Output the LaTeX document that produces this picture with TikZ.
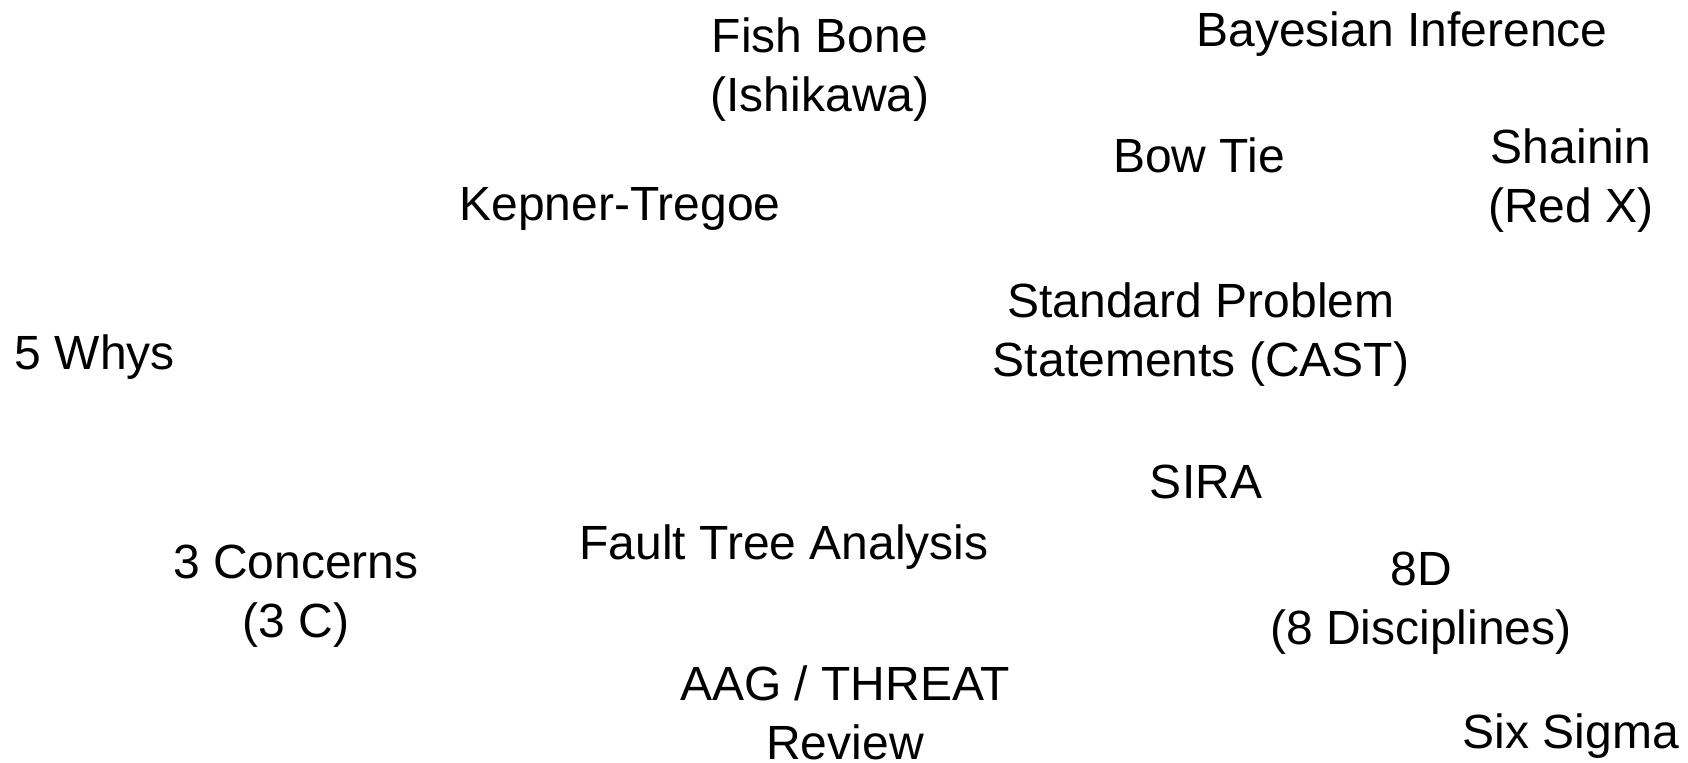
\documentclass[tikz,border=0pt]{standalone}
\usepackage{fontspec}
\setmainfont{Liberation Sans}
\usetikzlibrary{positioning}

\tikzset{method/.style={align=center, inner sep=0pt, font=\fontsize{24}{29.5}\selectfont}}

\begin{document}
\begin{tikzpicture} [x=0.5pt, y=-0.5pt]
\useasboundingbox (0,0) rectangle (1688,762);

\node[method] (fishbone) at (820,70) {Fish Bone\\(Ishikawa)};
\node[method] (bayes) at (1402,34) {Bayesian Inference};
\node[method] (bowtie) at (1199,155) {Bow Tie};
\node[method] (shainin) at (1571,181) {Shainin\\(Red X)};
\node[method] (kepner) at (620,209) {Kepner-Tregoe};
\node[method] (cast) at (1201,335) {Standard Problem\\Statements (CAST)};
\node[method] (whys) at (95,357) {5 Whys};
\node[method] (sira) at (1206,482) {SIRA};
\node[method] (fta) at (784,547) {Fault Tree Analysis};
\node[method] (concerns) at (296,596) {3 Concerns\\(3 C)};
\node[method] (eightd) at (1421,603) {8D\\(8 Disciplines)};
\node[method] (aag) at (845,713) {AAG / THREAT\\Review};
\node[method] (sixsigma) at (1571,736) {Six Sigma};

\end{tikzpicture}
\end{document}
